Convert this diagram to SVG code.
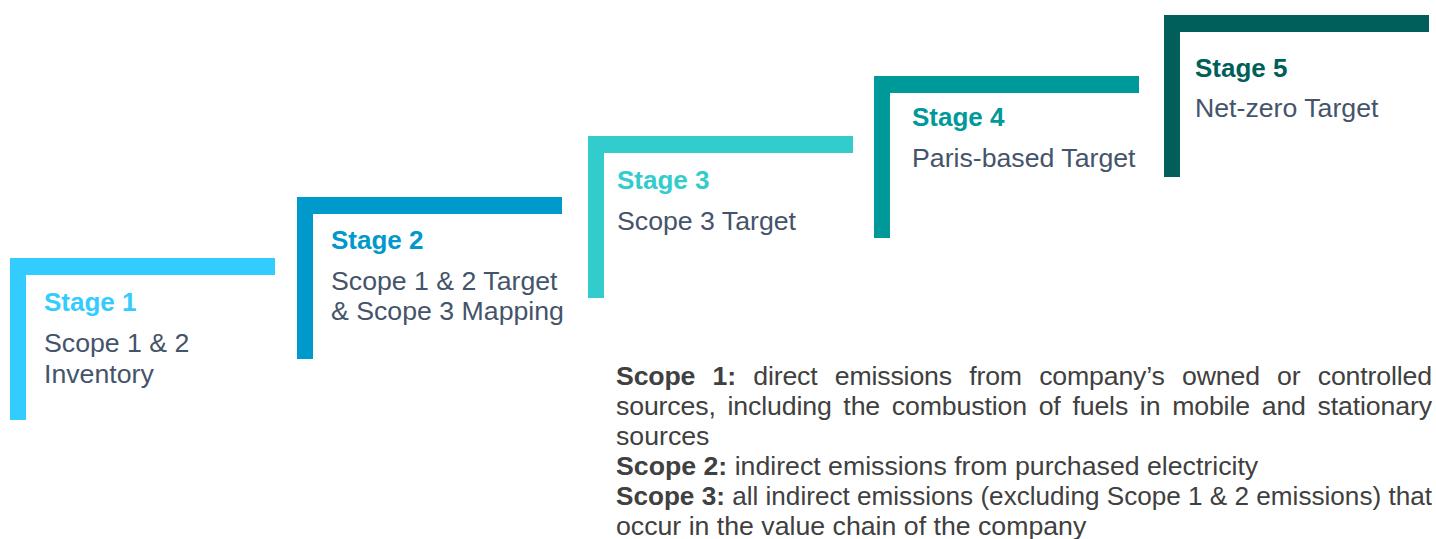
<svg xmlns="http://www.w3.org/2000/svg" width="1436" height="539" viewBox="0 0 1436 539">
<style>
text{font-family:"Liberation Sans",Arial,sans-serif;font-size:26.7px}
.t{font-weight:bold;font-size:26px}
.b{fill:#44546A}
.p{fill:#404040}
.p .k{font-weight:bold}
</style>
<rect width="1436" height="539" fill="#ffffff"/>
<g id="stage1">
<path d="M10 258H275V275H26V420H10Z" fill="#33CCFF"/>
<text class="t" x="44" y="311" fill="#33CCFF">Stage 1</text>
<text class="b" x="44" y="352">Scope 1 &amp; 2</text>
<text class="b" x="44" y="383">Inventory</text>
</g>
<g id="stage2">
<path d="M297 197H562V214H313V359H297Z" fill="#0099CC"/>
<text class="t" x="331" y="249" fill="#0099CC">Stage 2</text>
<text class="b" x="331" y="290">Scope 1 &amp; 2 Target</text>
<text class="b" x="331" y="320">&amp; Scope 3 Mapping</text>
</g>
<g id="stage3">
<path d="M588 136H853V153H604V298H588Z" fill="#33CCCC"/>
<text class="t" x="617" y="189" fill="#33CCCC">Stage 3</text>
<text class="b" x="617" y="230">Scope 3 Target</text>
</g>
<g id="stage4">
<path d="M874 76H1139V93H890V238H874Z" fill="#009999"/>
<text class="t" x="912" y="126" fill="#009999">Stage 4</text>
<text class="b" x="912" y="167">Paris-based Target</text>
</g>
<g id="stage5">
<path d="M1164 15H1429V32H1180V177H1164Z" fill="#005F5A"/>
<text class="t" x="1195" y="77" fill="#005F5A">Stage 5</text>
<text class="b" x="1195" y="117">Net-zero Target</text>
</g>
<g id="connectors"></g>
<g id="legend" class="p">
<text x="616" y="385" word-spacing="10" textLength="816" lengthAdjust="spacing"><tspan class="k">Scope 1:</tspan> direct emissions from company’s owned or controlled</text>
<text x="616" y="415" word-spacing="4.5" textLength="816" lengthAdjust="spacing">sources, including the combustion of fuels in mobile and stationary</text>
<text x="616" y="445">sources</text>
<text x="616" y="475"><tspan class="k">Scope 2:</tspan> indirect emissions from purchased electricity</text>
<text x="616" y="505" textLength="816" lengthAdjust="spacingAndGlyphs"><tspan class="k">Scope 3:</tspan> all indirect emissions (excluding Scope 1 &amp; 2 emissions) that</text>
<text x="616" y="535">occur in the value chain of the company</text>
</g>
</svg>
